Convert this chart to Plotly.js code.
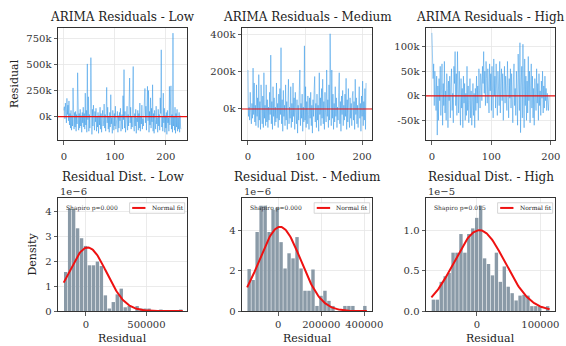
<!DOCTYPE html>
<html>
<head>
<meta charset="utf-8">
<script src="https://cdn.plot.ly/plotly-3.0.1.min.js"></script>
<style>html,body{margin:0;padding:0;background:#fff;}#chart{width:566px;height:346px;}</style>
</head>
<body>
<div id="chart"></div>
<script>
// ---------- DATA (residuals in thousands) ----------
const residLow = [
  60, 95, -20, 130, 40, -60, 175, 20, 110, -40,
  150, -80, 30, -110, 60, -130, 10, -90, 275, -60,
  -120, 40, -100, 50, -140, 20, -70, 420, -50, -130,
  30, -110, 70, -90, 10, -150, 40, -60, 90, -100,
  30, -120, 225, -80, 60, -150, 505, -30, 190, -140,
  20, -110, 80, 565, -60, -170, 70, -90, 110, 20,
  -130, 50, -50, 80, -140, 0, -100, 40, -160, 10,
  -80, 90, -120, 30, -150, -20, 60, -90, -40, 120,
  -110, 20, -140, 50, 280, -60, 90, -120, 0, -150,
  40, -100, 210, -70, -10, -160, 60, -40, -130, 30,
  -90, 100, -120, -20, -60, 50, -150, 10, -110, 40,
  -40, 80, -140, -80, 20, -120, 200, -30, 450, -110,
  50, -150, -10, -70, 100, -130, 20, -90, 60, 370,
  -60, 90, -120, 0, -100, 250, 480, -80, -140, 30,
  -90, 70, -160, -10, -50, 60, -130, 30, -110, 130,
  -140, 0, -70, 110, -120, -20, -90, 40, 220, 270,
  -60, 100, -130, 180, 290, -40, 250, -150, 50, -80,
  180, -110, 80, -50, 305, -140, 30, -160, 60, -30,
  -120, 100, -70, -10, -150, 70, -90, 20, -130, 180,
  30, 640, -100, 0, -140, 225, -60, 80, -150, 10,
  -110, 40, -170, 60, -60, -10, -140, 290, -80, 110,
  295, -120, 20, -150, 800, -90, 0, -130, 90, -160,
  30, -100, 70, -140, -10, -120, 40, -150, 10, -110,
  -120
];
const residMedium = [
  210, -40, 10, -60, 90, -20, -80, 30, -50, 220,
  -30, 140, -70, 20, -90, 130, -40, 60, -100, 185,
  -60, 40, -110, 130, -20, -80, 70, -100, 195, -50,
  20, -90, 130, -70, 50, -100, 10, -60, 90, -30,
  290, -80, 40, -110, 120, -40, 60, -90, 10, -70,
  140, -50, 30, -100, 80, -60, 110, -30, 330, -80,
  50, -120, 100, -40, 20, -90, 130, -60, 40, -110,
  70, 160, -80, 10, -50, 120, -100, 30, -70, 140,
  -40, 60, -110, 90, -20, -80, 50, -130, 20, -60,
  100, 210, -90, 30, -50, 80, -120, 10, -70, 340,
  -60, 120, -100, 40, -80, 70, -30, -110, 60, -50,
  90, -90, 20, -130, 50, -40, 100, 175, -70, 30,
  -100, 80, -60, 20, -120, 195, -30, 60, -90, 110,
  -50, 160, -80, 40, -110, 90, -20, -70, 210, -40,
  50, -100, 130, -60, 405, 20, -90, 210, -50, 80,
  -110, 30, -70, 120, -40, 60, -100, 10, -60, 90,
  195, -80, 40, -120, 70, -30, 100, -90, 20, -60,
  80, -40, 165, -110, 50, -70, 110, -20, -100, 60,
  -50, 30, -90, 70, 95, -60, 40, -110, 160, -30,
  60, -80, 20, -100, 90, 120, -50, 30, -120, 70,
  -40, 150, -90, 40, -60, 110, -110, 140
];
const residHigh = [
  128, 80, 35, 65, -20, 50, 10, -30, 40, -80,
  20, -50, 35, -10, 60, -40, 5, 65, -60, 25,
  -20, 70, -35, 10, -50, 45, 15, -65, 30, -10,
  40, -45, 20, 55, -30, 5, -55, 60, 25, 90,
  -20, 45, -40, 90, 10, -35, 50, -10, -60, 35,
  -25, 15, -65, 40, -15, 25, -50, 5, -40, 60,
  -30, 20, -55, -10, 35, -45, 10, -60, -20, 25,
  -40, 5, -65, 15, -30, 40, -15, 20, -50, 55,
  10, -25, 45, 30, -10, 60, 25, 90, 5, 50,
  -20, 70, 35, -15, 55, 20, -35, 65, 10, 45,
  -30, 60, 20, -45, 75, 0, 40, -25, 65, 15,
  -40, 50, 10, -20, 70, -35, 30, 55, -10, 45,
  -50, 25, 60, -15, 40, 5, -30, 70, 20, -45,
  35, -5, 55, -25, 45, 10, -55, 30, 65, -20,
  15, -40, 50, 0, -60, 85, 25, -30, 108, -75,
  20, 60, -45, 105, 10, -65, 75, -20, 40, -50,
  30, -35, 80, -10, 50, -55, 20, 65, -25, 40,
  -45, 15, -60, 35, 5, -30, 55, -15, 25, -50,
  45, -20, 10, -40, 30, -5, 50, -35, 20, -25,
  40, -10, 15, -30, 5, -20, -30, 0
];

// histogram densities (units of 1e-6 / 1e-6 / 1e-5), 30 bins each
const densLow = [1.57, 4.12, 4.10, 3.33, 2.93, 2.62, 1.84, 1.84, 1.99, 1.81,
                 0.63, 0.10, 0.36, 0.67, 0.90, 0.15, 0.20, 0.00, 0.20, 0.10,
                 0.10, 0.10, 0.00, 0.00, 0.06, 0.00, 0.00, 0.00, 0.00, 0.06];
const densMedium = [2.07, 1.53, 3.90, 5.20, 5.20, 3.90, 5.00, 5.10, 3.40, 2.10,
                    2.85, 2.60, 3.65, 2.10, 1.00, 1.00, 2.05, 0.25, 0.75, 1.00,
                    0.50, 0.25, 0.00, 0.00, 0.25, 0.25, 0.25, 0.00, 0.00, 0.25];
const densHigh = [0.14, 0.14, 0.36, 0.43, 0.47, 0.72, 0.72, 0.95, 0.72, 0.95,
                  1.02, 1.15, 1.30, 0.65, 0.58, 0.44, 0.72, 0.36, 0.55, 0.30,
                  0.22, 0.13, 0.19, 0.20, 0.19, 0.06, 0.06, 0.06, 0.00, 0.06];
// histogram ranges (residual units)
const histLow = {min: -183000, max: 800000};
const histMedium = {min: -145000, max: 412000};
const histHigh = {min: -71500, max: 114500};
// normal fit parameters (mean, std)
const fitLow = {mu: 15000, sigma: 156000};
const fitMedium = {mu: 8000, sigma: 96000};
const fitHigh = {mu: 4000, sigma: 40000};
const shapiro = ['Shapiro p=0.000', 'Shapiro p=0.000', 'Shapiro p=0.015'];
const topTitles = ['ARIMA Residuals - Low', 'ARIMA Residuals - Medium', 'ARIMA Residuals - High'];
const botTitles = ['Residual Dist. - Low', 'Residual Dist. - Medium', 'Residual Dist. - High'];
const scaleText = ['1e\u22126', '1e\u22126', '1e\u22125'];
const scales = [1e-6, 1e-6, 1e-5];

// ---------- BUILD ----------
const FONT = 'DejaVu Serif';
const lineColor = 'rgba(40,145,230,0.6)';
const barColor = '#8a9aa7';
const traces = [];
const series = [residLow, residMedium, residHigh];
series.forEach((s, i) => {
  traces.push({
    type: 'scatter', mode: 'lines',
    x: s.map((_, k) => k), y: s,
    line: {color: lineColor, width: 0.8},
    xaxis: 'x' + (i === 0 ? '' : i + 1), yaxis: 'y' + (i === 0 ? '' : i + 1),
    hoverinfo: 'skip', showlegend: false
  });
});
const dens = [densLow, densMedium, densHigh];
const hists = [histLow, histMedium, histHigh];
const fits = [fitLow, fitMedium, fitHigh];
dens.forEach((d, i) => {
  const h = hists[i];
  const w = (h.max - h.min) / d.length;
  const ax = i + 4;
  traces.push({
    type: 'bar',
    x: d.map((_, k) => h.min + w * (k + 0.5)), y: d,
    width: d.map(() => w * 0.86),
    marker: {color: barColor, line: {width: 0}},
    xaxis: 'x' + ax, yaxis: 'y' + ax, hoverinfo: 'skip', showlegend: false
  });
  const f = fits[i];
  const xs = [], ys = [];
  const N = 150;
  for (let k = 0; k <= N; k++) {
    const x = h.min + (h.max - h.min) * k / N;
    const z = (x - f.mu) / f.sigma;
    xs.push(x);
    ys.push(Math.exp(-0.5 * z * z) / (f.sigma * Math.sqrt(2 * Math.PI)) / scales[i]);
  }
  traces.push({
    type: 'scatter', mode: 'lines', x: xs, y: ys,
    line: {color: '#ee1111', width: 2},
    xaxis: 'x' + ax, yaxis: 'y' + ax, hoverinfo: 'skip', showlegend: false
  });
});

const colX = [[58/566, 187/566], [242/566, 372/566], [426/566, 555/566]];
const rowTop = [1 - 140/346, 1 - 28/346];
const rowBot = [1 - 311/346, 1 - 198/346];

function axisBase() {
  return {
    showline: true, mirror: true, linecolor: '#333', linewidth: 1,
    ticks: 'outside', ticklen: 3.5, tickwidth: 0.8, tickcolor: '#333',
    showgrid: true, gridcolor: '#e6e6e6', gridwidth: 0.8, zeroline: false,
    tickfont: {family: FONT, size: 10, color: '#333'}, fixedrange: true
  };
}
const layout = {
  width: 566, height: 346, margin: {l: 0, r: 0, t: 0, b: 0},
  paper_bgcolor: '#fff', plot_bgcolor: '#fff', showlegend: false,
  font: {family: FONT, color: '#222'},
  annotations: [], shapes: []
};
const xRanges = [[-11.5, 241.5], [-10.4, 217.4], [-9.9, 206.9],
                 [-230000, 835000], [-169000, 436000], [-80000, 123000]];
const yRanges = [[-224, 849], [-167, 436], [-90, 138], [0, 4.55], [0, 5.58], [0, 1.395]];
const xTickVals = [[0, 100, 200], [0, 100, 200], [0, 100, 200], [0, 500000], [0, 200000, 400000], [0, 100000]];
const xTickText = [['0', '100', '200'], ['0', '100', '200'], ['0', '100', '200'], ['0', '500000'], ['0', '200000', '400000'], ['0', '100000']];
const yTickVals = [[0, 250, 500, 750], [0, 200, 400], [-50, 0, 50, 100], [0, 1, 2, 3, 4], [0, 2, 4], [0, 0.5, 1.0]];
const yTickText = [['0k', '250k', '500k', '750k'], ['0k', '200k', '400k'], ['-50k', '0k', '50k', '100k'], ['0', '1', '2', '3', '4'], ['0', '2', '4'], ['0.0', '0.5', '1.0']];

for (let i = 0; i < 6; i++) {
  const n = i + 1;
  const xs = n === 1 ? '' : n;
  const xa = axisBase(), ya = axisBase();
  xa.domain = colX[i % 3];
  ya.domain = i < 3 ? rowTop : rowBot;
  xa.anchor = 'y' + xs; ya.anchor = 'x' + xs;
  xa.range = xRanges[i]; ya.range = yRanges[i];
  xa.tickmode = 'array'; xa.tickvals = xTickVals[i]; xa.ticktext = xTickText[i];
  ya.tickmode = 'array'; ya.tickvals = yTickVals[i]; ya.ticktext = yTickText[i];
  if (i < 3) xa.ticklabelstandoff = 3;
  layout['xaxis' + xs] = xa;
  layout['yaxis' + xs] = ya;
  // titles
  layout.annotations.push({
    text: (i < 3 ? topTitles : botTitles)[i % 3], xref: 'x' + xs + ' domain', x: 0.5,
    yref: 'paper', y: 1 - (i < 3 ? 17 : 177) / 346, yanchor: 'middle', xanchor: 'center',
    showarrow: false, font: {family: FONT, size: 12, color: '#222'}
  });
}
// zero lines top row
for (let i = 0; i < 3; i++) {
  const xs = i === 0 ? '' : i + 1;
  layout.shapes.push({type: 'line', xref: 'x' + xs + ' domain', x0: 0, x1: 1,
    yref: 'y' + xs, y0: 0, y1: 0, line: {color: '#ee1111', width: 1.2}});
}
// bottom row extras
for (let i = 0; i < 3; i++) {
  const xs = i + 4;
  const xd = 'x' + xs + ' domain', yd = 'y' + xs + ' domain';
  layout.annotations.push({text: 'Residual', xref: xd, x: 0.5, yref: 'paper', y: 1 - 338/346,
    xanchor: 'center', yanchor: 'middle', showarrow: false, font: {family: FONT, size: 11, color: '#222'}});
  layout.annotations.push({text: scaleText[i], xref: xd, x: 0, yref: 'paper', y: 1 - 192/346,
    xanchor: 'left', yanchor: 'middle', showarrow: false, font: {family: FONT, size: 10, color: '#333'}});
  layout.annotations.push({text: shapiro[i], xref: xd, x: 0.045, yref: yd, y: 0.915,
    xanchor: 'left', yanchor: 'middle', showarrow: false, font: {family: FONT, size: 6, color: '#333'}});
  layout.shapes.push({type: 'rect', xref: xd, x0: 0.555, x1: 0.982, yref: yd, y0: 0.865, y1: 0.958,
    line: {color: '#cccccc', width: 0.8}, fillcolor: 'rgba(255,255,255,0.85)'});
  layout.shapes.push({type: 'line', xref: xd, x0: 0.575, x1: 0.678, yref: yd, y0: 0.912, y1: 0.912,
    line: {color: '#ee1111', width: 2}});
  layout.annotations.push({text: 'Normal fit', xref: xd, x: 0.71, yref: yd, y: 0.912,
    xanchor: 'left', yanchor: 'middle', showarrow: false, font: {family: FONT, size: 6, color: '#222'}});
}
// y axis titles
layout.annotations.push({text: 'Residual', textangle: -90, xref: 'paper', x: 14/566, yref: 'y domain', y: 0.5,
  xanchor: 'center', yanchor: 'middle', showarrow: false, font: {family: FONT, size: 11, color: '#222'}});
layout.annotations.push({text: 'Density', textangle: -90, xref: 'paper', x: 32/566, yref: 'y4 domain', y: 0.5,
  xanchor: 'center', yanchor: 'middle', showarrow: false, font: {family: FONT, size: 11, color: '#222'}});

Plotly.newPlot('chart', traces, layout, {staticPlot: true, displayModeBar: false});
</script>
</body>
</html>
